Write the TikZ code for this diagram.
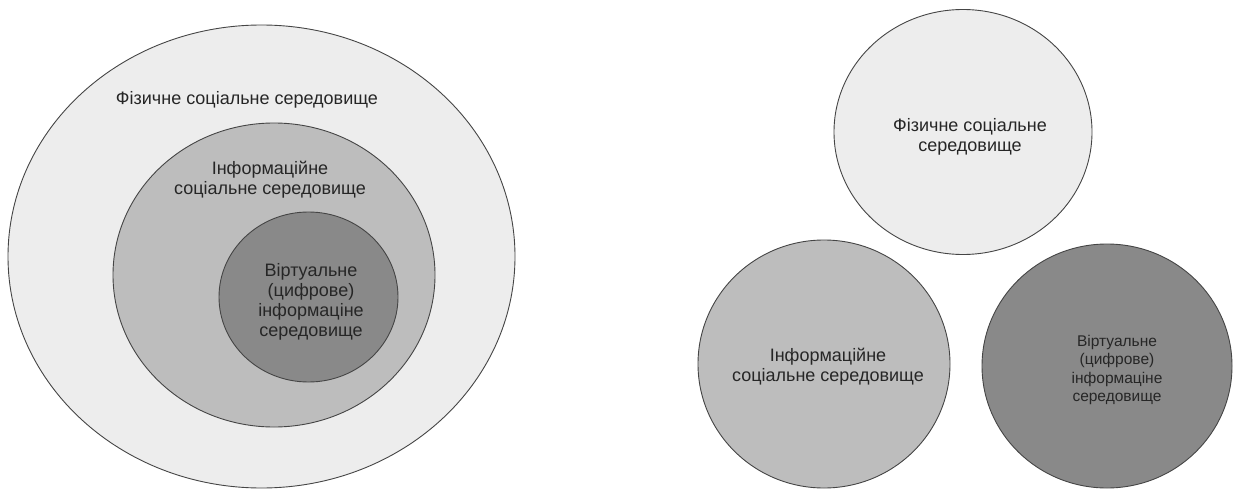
\documentclass[tikz,border=0pt]{standalone}
\usepackage{fontspec}
\setmainfont{Liberation Sans}
\usetikzlibrary{shapes.geometric}
\definecolor{envlight}{HTML}{EDEDED}
\definecolor{envmid}{HTML}{BDBDBD}
\definecolor{envdark}{HTML}{898989}
\definecolor{envline}{HTML}{454545}
\definecolor{envtext}{HTML}{262626}
\tikzset{
  env/.style={ellipse,draw=envline,line width=0.9pt,inner sep=0pt},
  envlabel/.style={align=center,text=envtext,font=\fontsize{18}{20}\selectfont},
  envsmall/.style={envlabel,font=\fontsize{15.5}{18.5}\selectfont}
}
\begin{document}
\begin{tikzpicture}[x=1pt,y=-1pt]
\useasboundingbox (0,0) rectangle (1236,489);

% nested view
\node[env,fill=envlight,minimum width=507pt,minimum height=463pt] (physA) at (261.5,256.5) {};
\node[env,fill=envmid,minimum width=322pt,minimum height=304pt] (infoA) at (274,275) {};
\node[env,fill=envdark,minimum width=179pt,minimum height=170pt] (virtA) at (308.5,297) {};
\node[envlabel] (physAtxt) at (247,100) {Фізичне соціальне середовище};
\node[envlabel] (infoAtxt) at (270,180) {Інформаційне\\соціальне середовище};
\node[envlabel] (virtAtxt) at (311,302) {Віртуальне\\(цифрове)\\інформаціне\\середовище};

% separate view
\node[env,fill=envlight,minimum width=258pt,minimum height=245pt] (physB) at (963,132) {};
\node[env,fill=envmid,minimum width=252pt,minimum height=248pt] (infoB) at (824,364) {};
\node[env,fill=envdark,minimum width=250pt,minimum height=244pt] (virtB) at (1107,366) {};
\node[envlabel] (physBtxt) at (970,137) {Фізичне соціальне\\середовище};
\node[envlabel] (infoBtxt) at (828,367) {Інформаційне\\соціальне середовище};
\node[envsmall] (virtBtxt) at (1117,370) {Віртуальне\\(цифрове)\\інформаціне\\середовище};
\end{tikzpicture}
\end{document}
